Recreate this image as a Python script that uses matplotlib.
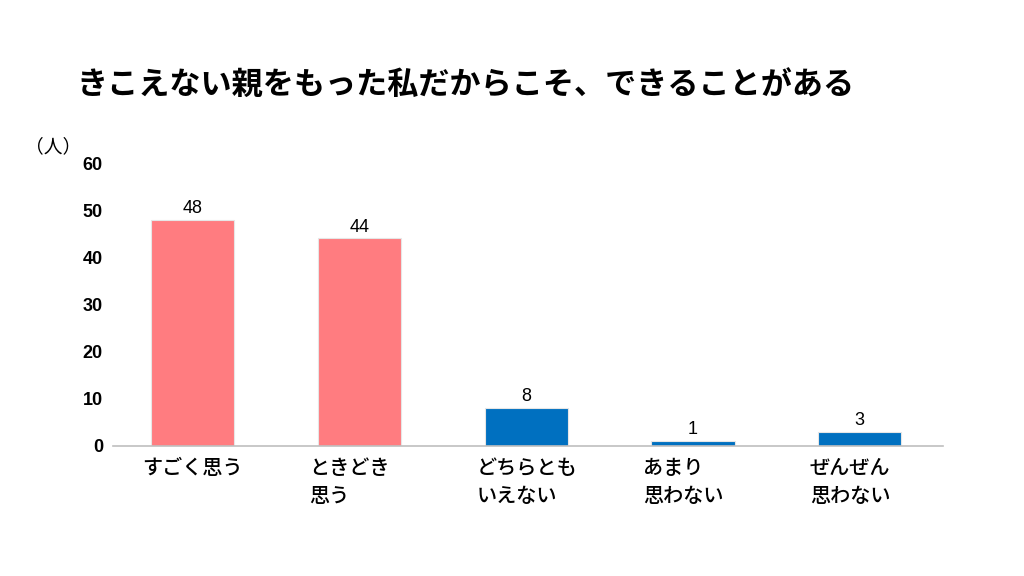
import matplotlib
matplotlib.use('Agg')
import matplotlib.pyplot as plt

plt.rcParams['font.family'] = ['Noto Sans CJK JP', 'DejaVu Sans']

# data
categories = ['すごく思う', 'ときどき\n思う', 'どちらとも\nいえない', 'あまり\n思わない', 'ぜんぜん\n思わない']
counts = [48, 44, 8, 1, 3]
bar_colors = ['#FF7C80', '#FF7C80', '#0070C0', '#0070C0', '#0070C0']
yticks = [0, 10, 20, 30, 40, 50, 60]

fig = plt.figure(figsize=(10.24, 5.76), dpi=100)
ax = fig.add_axes([0.110, 0.2257, 0.811, 0.4913])

x = list(range(len(categories)))
bars = ax.bar(x, counts, width=0.5, color=bar_colors, edgecolor='#E6E6E6', linewidth=0.8)

for b, v in zip(bars, counts):
    ax.text(b.get_x() + b.get_width() / 2, v + 0.6, str(v),
            ha='center', va='bottom', fontsize=13, family=['Liberation Sans', 'DejaVu Sans'])

ax.set_xlim(-0.48, 4.5)
ax.set_ylim(0, 60)
ax.set_yticks(yticks)
ax.set_yticklabels([str(t) for t in yticks], fontsize=13, fontweight='bold',
                   family=['Liberation Sans', 'DejaVu Sans'])
ax.set_xticks([])

# category labels, left aligned at bar edge
for b, lab in zip(bars, categories):
    ax.text(b.get_x() - 0.05, -2.8, lab, ha='left', va='top', fontsize=14.5,
            fontweight='medium', linespacing=1.6, transform=ax.transData)

for s in ['top', 'right', 'left']:
    ax.spines[s].set_visible(False)
ax.spines['bottom'].set_color('#BFBFBF')
ax.spines['bottom'].set_linewidth(1.2)
ax.tick_params(axis='y', length=0, pad=7)

fig.text(0.024, 0.745, '（人）', fontsize=13.5, ha='left', va='center')
fig.text(0.075, 0.852, 'きこえない親をもった私だからこそ、できることがある',
         fontsize=22.4, fontweight='bold', ha='left', va='center')

fig.savefig('out.png', dpi=100)
